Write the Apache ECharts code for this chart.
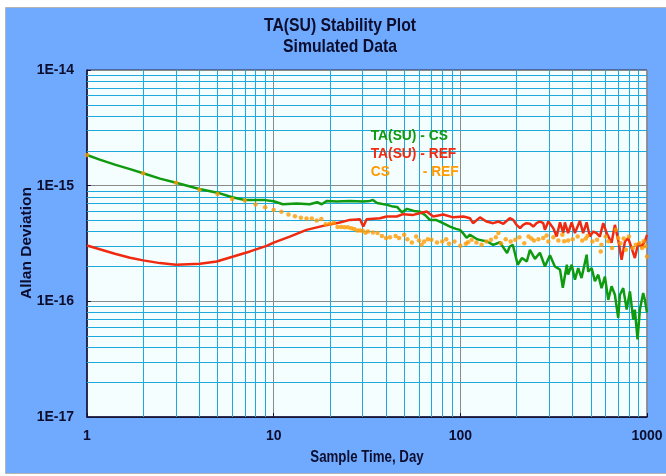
<!DOCTYPE html>
<html>
<head>
<meta charset="utf-8">
<script src="https://cdn.jsdelivr.net/npm/echarts@6/dist/echarts.min.js"></script>
<style>
  html, body { margin: 0; padding: 0; background: #ffffff; }
  #chart { width: 666px; height: 476px; }
</style>
</head>
<body>
<div id="chart"></div>
<script>
// sample times (days) and Allan deviation
var greenTau = [1, 1.17, 1.41, 1.7, 2, 2.46, 3, 4, 5, 6, 7, 8, 9, 10, 11.2, 13.3, 15.6, 17.1, 18.1, 19.3,
  21.8, 25.6, 30.1, 32.8, 34, 35.8, 40.5, 43.6, 45.8, 48.7, 51.8, 56.4, 60.8, 64.6, 68.7, 74, 80.7, 88, 94.7, 99.5,
  103, 108, 112.6, 123, 127, 139, 150, 163, 178, 184, 191, 203, 214, 227, 236, 251, 267, 284, 302, 321,
  342, 354, 372, 378, 395, 411, 428, 446, 475, 484, 505, 526, 548, 571, 595, 620, 646, 673, 701, 716,
  746, 778, 810, 844, 861, 890, 916, 954, 974, 1000];
var greenVal = [1.84e-15, 1.68e-15, 1.52e-15, 1.39e-15, 1.28e-15, 1.15e-15, 1.06e-15, 0.937e-15, 0.87e-15, 0.794e-15,
  0.753e-15, 0.753e-15, 0.75e-15, 0.734e-15, 0.691e-15, 0.70e-15, 0.691e-15, 0.719e-15, 0.691e-15, 0.738e-15,
  0.728e-15, 0.738e-15, 0.728e-15, 0.738e-15, 0.753e-15, 0.709e-15, 0.682e-15, 0.659e-15, 0.655e-15, 0.588e-15,
  0.63e-15, 0.605e-15, 0.594e-15, 0.559e-15, 0.506e-15, 0.506e-15, 0.474e-15, 0.443e-15, 0.423e-15, 0.415e-15,
  0.391e-15, 0.354e-15, 0.376e-15, 0.344e-15, 0.340e-15, 0.329e-15, 0.308e-15, 0.324e-15, 0.261e-15, 0.298e-15,
  0.308e-15, 0.207e-15, 0.237e-15, 0.221e-15, 0.279e-15, 0.233e-15, 0.263e-15, 0.20e-15, 0.25e-15, 0.20e-15,
  0.188e-15, 0.131e-15, 0.207e-15, 0.17e-15, 0.207e-15, 0.154e-15, 0.194e-15, 0.159e-15, 0.253e-15, 0.181e-15,
  0.194e-15, 0.149e-15, 0.17e-15, 0.130e-15, 0.164e-15, 0.103e-15, 0.135e-15, 0.114e-15, 0.0719e-15, 0.114e-15,
  0.130e-15, 0.0848e-15, 0.122e-15, 0.0696e-15, 0.0848e-15, 0.0468e-15, 0.0848e-15, 0.118e-15, 0.103e-15, 0.080e-15];

var redTau = [1, 1.17, 1.41, 1.7, 2, 2.46, 3, 4.03, 4.95, 6.08, 7.47, 9.17, 10, 12.2, 15, 18.4, 22.6, 25.6, 29, 30.2,
  31.5, 37.1, 40.3, 45.6, 49.4, 56, 66, 71.6, 81, 91.6, 104, 112.6, 117, 127.4, 138, 150, 160, 170, 184, 192,
  200, 209, 217, 226, 236, 246, 256, 267, 278, 284, 296, 302, 315, 328, 342, 356, 363, 378, 395, 411,
  437, 455, 475, 494, 515, 537, 559, 583, 608, 620, 646, 673, 701, 731, 762, 793, 827, 861, 897, 935,
  974, 1000];
var redVal = [0.304e-15, 0.282e-15, 0.258e-15, 0.238e-15, 0.226e-15, 0.214e-15, 0.207e-15, 0.211e-15, 0.221e-15, 0.244e-15,
  0.27e-15, 0.302e-15, 0.322e-15, 0.363e-15, 0.415e-15, 0.449e-15, 0.48e-15, 0.506e-15, 0.513e-15, 0.443e-15,
  0.513e-15, 0.523e-15, 0.541e-15, 0.541e-15, 0.567e-15, 0.559e-15, 0.597e-15, 0.541e-15, 0.563e-15, 0.532e-15,
  0.541e-15, 0.523e-15, 0.474e-15, 0.532e-15, 0.49e-15, 0.474e-15, 0.49e-15, 0.468e-15, 0.523e-15, 0.506e-15,
  0.458e-15, 0.429e-15, 0.458e-15, 0.474e-15, 0.468e-15, 0.443e-15, 0.474e-15, 0.49e-15, 0.474e-15, 0.415e-15,
  0.49e-15, 0.506e-15, 0.429e-15, 0.363e-15, 0.482e-15, 0.389e-15, 0.482e-15, 0.389e-15, 0.482e-15, 0.389e-15,
  0.496e-15, 0.389e-15, 0.482e-15, 0.363e-15, 0.401e-15, 0.389e-15, 0.363e-15, 0.474e-15, 0.389e-15, 0.376e-15,
  0.321e-15, 0.458e-15, 0.34e-15, 0.229e-15, 0.329e-15, 0.352e-15, 0.289e-15, 0.237e-15, 0.318e-15, 0.298e-15,
  0.329e-15, 0.376e-15];

var orangeTau = [1, 2, 3, 4, 5, 6, 7, 8, 9, 10, 11, 12, 13, 14, 15, 16, 17, 18, 19, 20,
  21, 22, 23, 24, 25, 26, 27, 28, 29, 30, 31, 32, 34, 36, 38, 40, 42, 45, 47, 50,
  52, 55, 58, 60, 62, 64, 67, 70, 75, 80, 84, 87, 93, 100, 107, 110, 115, 122, 130, 138,
  146, 155, 160, 165, 175, 186, 197, 207, 220, 232, 240, 248, 262, 278, 290, 296, 315, 335, 352, 360,
  378, 400, 425, 450, 470, 480, 510, 540, 565, 570, 600, 620, 650, 680, 700, 720, 750, 770, 800, 840,
  870, 910, 940, 960, 980, 1000];
var orangeVal = [1.84e-15, 1.28e-15, 1.06e-15, 0.924e-15, 0.848e-15, 0.768e-15, 0.743e-15, 0.689e-15, 0.651e-15, 0.617e-15,
  0.594e-15, 0.563e-15, 0.545e-15, 0.527e-15, 0.52e-15, 0.52e-15, 0.499e-15, 0.516e-15, 0.465e-15, 0.468e-15,
  0.477e-15, 0.44e-15, 0.44e-15, 0.438e-15, 0.436e-15, 0.429e-15, 0.421e-15, 0.409e-15, 0.41e-15, 0.407e-15,
  0.391e-15, 0.401e-15, 0.394e-15, 0.389e-15, 0.368e-15, 0.352e-15, 0.358e-15, 0.368e-15, 0.352e-15, 0.376e-15,
  0.345e-15, 0.322e-15, 0.363e-15, 0.335e-15, 0.308e-15, 0.329e-15, 0.345e-15, 0.34e-15, 0.322e-15, 0.329e-15,
  0.345e-15, 0.314e-15, 0.329e-15, 0.302e-15, 0.314e-15, 0.325e-15, 0.34e-15, 0.322e-15, 0.308e-15, 0.329e-15,
  0.34e-15, 0.358e-15, 0.389e-15, 0.318e-15, 0.345e-15, 0.329e-15, 0.34e-15, 0.358e-15, 0.318e-15, 0.363e-15,
  0.35e-15, 0.336e-15, 0.345e-15, 0.352e-15, 0.37e-15, 0.329e-15, 0.358e-15, 0.336e-15, 0.376e-15, 0.33e-15,
  0.336e-15, 0.345e-15, 0.363e-15, 0.336e-15, 0.35e-15, 0.368e-15, 0.329e-15, 0.34e-15, 0.27e-15, 0.308e-15,
  0.363e-15, 0.33e-15, 0.289e-15, 0.415e-15, 0.352e-15, 0.318e-15, 0.35e-15, 0.279e-15, 0.363e-15, 0.289e-15,
  0.308e-15, 0.318e-15, 0.289e-15, 0.33e-15, 0.30e-15, 0.244e-15];

// minor grid positions
var xMinor = [2, 3, 4, 5, 6, 7, 8, 9, 20, 30, 40, 50, 60, 70, 80, 90, 200, 300, 400, 500, 600, 700, 800, 900];
var yMinor = [2e-17, 3e-17, 4e-17, 5e-17, 6e-17, 7e-17, 8e-17, 9e-17,
  2e-16, 3e-16, 4e-16, 5e-16, 6e-16, 7e-16, 8e-16, 9e-16,
  2e-15, 3e-15, 4e-15, 5e-15, 6e-15, 7e-15, 8e-15, 9e-15];

var FONT = '"Liberation Sans", Arial, sans-serif';
var INK = '#0d0d2e';

function pairs(xs, ys) {
  return xs.map(function (x, i) { return [x, ys[i]]; });
}

var chart = echarts.init(document.getElementById('chart'));

var markData = xMinor.map(function (v) { return { xAxis: v }; })
  .concat(yMinor.map(function (v) { return { yAxis: v }; }));

var option = {
  animation: false,
  backgroundColor: '#ffffff',
  graphic: [
    {
      type: 'rect', z: -10, silent: true,
      shape: { x: 5.5, y: 7.5, width: 700, height: 466 },
      style: { fill: '#6faaff', stroke: '#b4b4b4', lineWidth: 1 }
    },
    {
      type: 'text', x: 340, y: 25.5, scaleX: 0.83,
      style: { text: 'TA(SU) Stability Plot', fill: INK, fontSize: 19, fontWeight: 'bold', fontFamily: FONT, align: 'center', verticalAlign: 'middle' }
    },
    {
      type: 'text', x: 340, y: 46.5, scaleX: 0.83,
      style: { text: 'Simulated Data', fill: INK, fontSize: 19, fontWeight: 'bold', fontFamily: FONT, align: 'center', verticalAlign: 'middle' }
    },
    {
      type: 'text', x: 367, y: 457.5, scaleX: 0.83,
      style: { text: 'Sample Time, Day', fill: INK, fontSize: 16, fontWeight: 'bold', fontFamily: FONT, align: 'center', verticalAlign: 'middle' }
    },
    {
      type: 'text', x: 26.5, y: 243, rotation: Math.PI / 2,
      style: { text: 'Allan Deviation', fill: INK, fontSize: 15.5, fontWeight: 'bold', fontFamily: FONT, align: 'center', verticalAlign: 'middle' }
    },
    {
      type: 'text', x: 370.7, y: 135.5, scaleX: 0.92, z: 10,
      style: { text: 'TA(SU) - CS', fill: '#0f9a0f', fontSize: 15, fontWeight: 'bold', fontFamily: FONT, align: 'left', verticalAlign: 'middle' }
    },
    {
      type: 'text', x: 370.7, y: 153.8, scaleX: 0.92, z: 10,
      style: { text: 'TA(SU) - REF', fill: '#f02a10', fontSize: 15, fontWeight: 'bold', fontFamily: FONT, align: 'left', verticalAlign: 'middle' }
    },
    {
      type: 'text', x: 370.7, y: 172, scaleX: 0.92, z: 10,
      style: { text: 'CS', fill: '#ff9a00', fontSize: 15, fontWeight: 'bold', fontFamily: FONT, align: 'left', verticalAlign: 'middle' }
    },
    {
      type: 'text', x: 422.7, y: 172, scaleX: 0.92, z: 10,
      style: { text: '- REF', fill: '#ff9a00', fontSize: 15, fontWeight: 'bold', fontFamily: FONT, align: 'left', verticalAlign: 'middle' }
    }
  ],
  grid: {
    left: 87, top: 70, right: 19, bottom: 59,
    show: true,
    backgroundColor: '#f5feff',
    borderColor: '#2a2a50',
    borderWidth: 1
  },
  xAxis: {
    type: 'log',
    logBase: 10,
    min: 1,
    max: 1000,
    axisLine: { lineStyle: { color: '#10103a', width: 1.5 } },
    axisTick: { inside: true, length: 4, lineStyle: { color: '#10103a' } },
    axisLabel: {
      margin: 12,
      color: INK, fontSize: 14, fontWeight: 'bold', fontFamily: FONT,
      formatter: function (v) { return String(Math.round(v)); }
    },
    splitLine: { show: true, lineStyle: { color: '#8a8a8a', width: 1 } }
  },
  yAxis: {
    type: 'log',
    logBase: 10,
    min: 1e-17,
    max: 1e-14,
    axisLine: { show: true, lineStyle: { color: '#10103a', width: 1.5 } },
    axisTick: { show: true, inside: true, length: 4, lineStyle: { color: '#10103a' } },
    axisLabel: {
      margin: 13,
      color: INK, fontSize: 14, fontWeight: 'bold', fontFamily: FONT,
      formatter: function (v) { return '1E' + Math.round(Math.log10(v)); }
    },
    splitLine: { show: true, lineStyle: { color: ['#2a2a2a', '#8a8a8a', '#8a8a8a', '#8a8a8a'], width: 1 } }
  },
  series: [
    {
      name: 'grid',
      type: 'line',
      data: [],
      z: 1,
      silent: true,
      markLine: {
        z: 1,
        silent: true,
        animation: false,
        precision: 20,
        symbol: ['none', 'none'],
        label: { show: false },
        lineStyle: { color: '#1ea8dc', width: 1, type: 'solid' },
        emphasis: { disabled: true },
        data: markData
      }
    },
    {
      name: 'TA(SU) - CS',
      type: 'line',
      z: 3,
      showSymbol: false,
      lineStyle: { color: '#0f9a0f', width: 2.5 },
      itemStyle: { color: '#0f9a0f' },
      data: pairs(greenTau, greenVal)
    },
    {
      name: 'TA(SU) - REF',
      type: 'line',
      z: 3,
      showSymbol: false,
      lineStyle: { color: '#f02a10', width: 2.5 },
      itemStyle: { color: '#f02a10' },
      data: pairs(redTau, redVal)
    },
    {
      name: 'CS - REF',
      type: 'scatter',
      z: 4,
      symbolSize: 4.5,
      itemStyle: { color: '#ff9a00' },
      data: pairs(orangeTau, orangeVal)
    }
  ]
};

chart.setOption(option);
</script>
</body>
</html>
